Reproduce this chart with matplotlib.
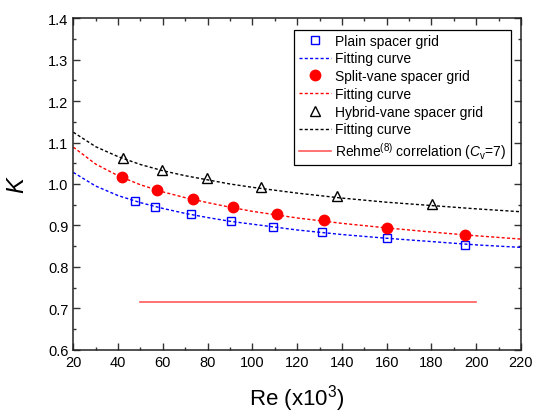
import numpy as np
import matplotlib.pyplot as plt

plt.rcParams['font.family'] = ['Liberation Sans', 'DejaVu Sans']
plt.rcParams['mathtext.fontset'] = 'custom'
plt.rcParams['mathtext.rm'] = 'Liberation Sans'
plt.rcParams['mathtext.it'] = 'Liberation Sans:italic'

# measured points (Re in 10^3)
re_plain = [47.5, 56.6, 72.5, 90.4, 109.0, 131.3, 160.0, 194.9]
k_plain = [0.958, 0.945, 0.927, 0.910, 0.897, 0.884, 0.869, 0.853]

re_split = [41.6, 57.5, 73.6, 91.2, 111.1, 132.1, 160.0, 195.0]
k_split = [1.017, 0.986, 0.963, 0.944, 0.927, 0.912, 0.894, 0.878]

re_hybrid = [42.0, 59.5, 79.5, 103.7, 137.9, 180.4]
k_hybrid = [1.062, 1.033, 1.014, 0.992, 0.970, 0.952]

# fitting curves
re_fit = [20, 30, 40, 50, 60, 70, 80, 90, 100, 120, 140, 160, 180, 200, 220]
fit_plain = [1.028, 0.995, 0.972, 0.955, 0.941, 0.929, 0.919, 0.910, 0.903,
             0.889, 0.878, 0.869, 0.861, 0.853, 0.847]
fit_split = [1.089, 1.048, 1.020, 0.998, 0.981, 0.967, 0.955, 0.944, 0.934,
             0.918, 0.905, 0.894, 0.884, 0.875, 0.867]
fit_hybrid = [1.125, 1.090, 1.066, 1.047, 1.032, 1.020, 1.010, 1.000, 0.992,
              0.978, 0.966, 0.956, 0.948, 0.940, 0.933]

# Rehme correlation (Cv=7)
re_rehme = [50, 200]
k_rehme = [0.716, 0.716]

fig = plt.figure(figsize=(5.36, 4.14), dpi=100)
ax = fig.add_axes([0.1368, 0.1529, 0.8352, 0.8005])

dash = (2.2, 1.6)
ax.plot(re_plain, k_plain, 's', ms=6, mfc='none', mec='#0000ff', mew=1.0,
        label='Plain spacer grid')
ax.plot(re_fit, fit_plain, '--', color='#0000ff', lw=1.0, dashes=dash,
        label='Fitting curve')
ax.plot(re_split, k_split, 'o', ms=7.5, mfc='#ff0000', mec='#ff0000',
        label='Split-vane spacer grid')
ax.plot(re_fit, fit_split, '--', color='#ff0000', lw=1.0, dashes=dash,
        label='Fitting curve')
ax.plot(re_hybrid, k_hybrid, '^', ms=7.5, mfc='none', mec='black', mew=1.0,
        label='Hybrid-vane spacer grid')
ax.plot(re_fit, fit_hybrid, '--', color='black', lw=1.0, dashes=dash,
        label='Fitting curve')
ax.plot(re_rehme, k_rehme, '-', color='#ff5a5a', lw=1.2,
        label=r'Rehme$^{(8)}$ correlation ($C_{\mathrm{v}}$=7)')

ax.set_xlim(20, 220)
ax.set_ylim(0.6, 1.4)
ax.set_xticks(np.arange(20, 221, 20))
ax.set_xticks(np.arange(20, 221, 10), minor=True)
ax.set_yticks(np.arange(0.6, 1.41, 0.1))
ax.set_yticks(np.arange(0.6, 1.41, 0.05), minor=True)
ax.yaxis.set_major_formatter(plt.FormatStrFormatter('%.1f'))

ax.tick_params(which='both', direction='in', top=True, right=True,
               labelsize=10.5, width=1.0, color='#333333')
ax.tick_params(which='major', length=5)
ax.tick_params(which='minor', length=2.5)
for s in ax.spines.values():
    s.set_linewidth(1.1)
    s.set_color('#222222')

ax.set_xlabel('Re (x10$^3$)', fontsize=16, labelpad=10)
ax.set_ylabel('$K$', fontsize=17, labelpad=14)

leg = ax.legend(loc='upper right', bbox_to_anchor=(0.977, 0.966),
                borderaxespad=0, fontsize=10, fancybox=False,
                edgecolor='black', framealpha=1, handlelength=2.3,
                handletextpad=0.35, labelspacing=0.27, borderpad=0.3)
leg.get_frame().set_linewidth(0.9)

fig.savefig('out.png', dpi=100)
